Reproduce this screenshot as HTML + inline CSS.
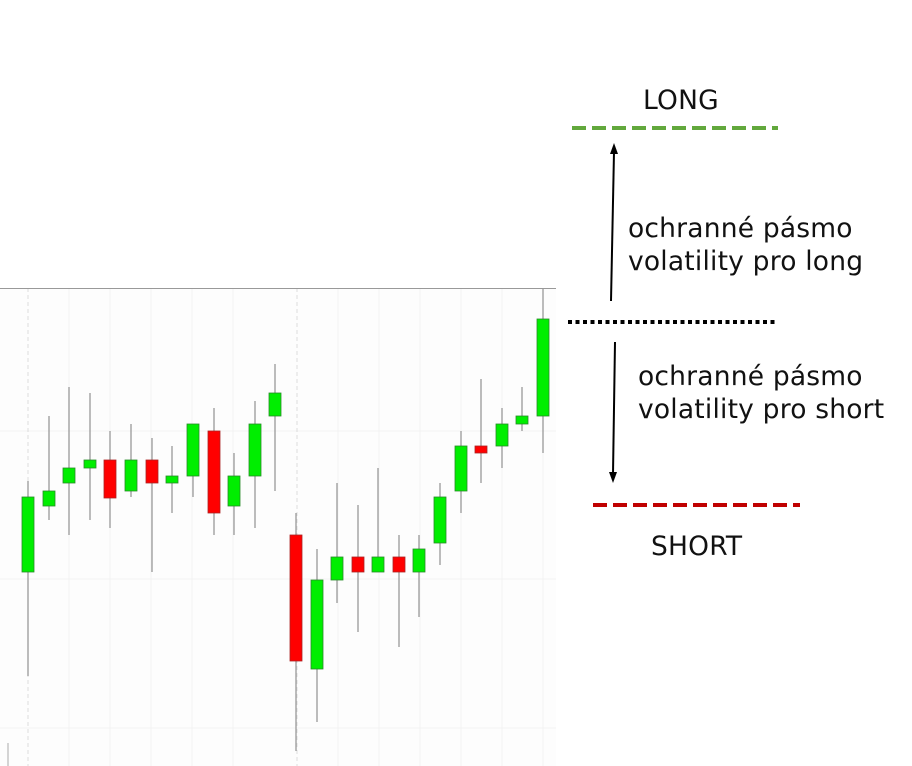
<!DOCTYPE html>
<html><head><meta charset="utf-8"><style>html,body{margin:0;padding:0;background:#fff}svg{display:block}</style></head>
<body>
<svg width="912" height="766" viewBox="0 0 912 766" xmlns="http://www.w3.org/2000/svg">
<rect x="0" y="288" width="556" height="478" fill="#fdfdfd"/>
<g stroke="#f2f2f2" stroke-width="1">
<line x1="0" y1="431" x2="556" y2="431"/><line x1="0" y1="579" x2="556" y2="579"/><line x1="0" y1="728" x2="556" y2="728"/>
<line x1="69" y1="288" x2="69" y2="766"/><line x1="110" y1="288" x2="110" y2="766"/><line x1="151" y1="288" x2="151" y2="766"/>
<line x1="192" y1="288" x2="192" y2="766"/><line x1="233" y1="288" x2="233" y2="766"/><line x1="338" y1="288" x2="338" y2="766"/>
<line x1="379" y1="288" x2="379" y2="766"/><line x1="420" y1="288" x2="420" y2="766"/><line x1="461" y1="288" x2="461" y2="766"/>
<line x1="502" y1="288" x2="502" y2="766"/><line x1="543" y1="288" x2="543" y2="766"/>
</g>
<g stroke="#dddddd" stroke-dasharray="4,3"><line x1="28" y1="288" x2="28" y2="766"/><line x1="297" y1="288" x2="297" y2="766"/></g>
<line x1="0" y1="288.5" x2="556" y2="288.5" stroke="#999" stroke-width="1"/>
<line x1="8" y1="743" x2="8" y2="766" stroke="#aaa"/>
<g id="c"></g>
<g font-family="'DejaVu Sans', 'Liberation Sans', sans-serif" font-size="26.5" fill="#111" letter-spacing="0.2">
<text x="643" y="109">LONG</text>
<text x="628" y="237">ochranné pásmo</text>
<text x="628" y="270">volatility pro long</text>
<text x="638" y="385">ochranné pásmo</text>
<text x="638" y="418">volatility pro short</text>
<text x="651" y="555">SHORT</text>
</g>
<line x1="572" y1="128" x2="778" y2="128" stroke="#62a83c" stroke-width="4" stroke-dasharray="14,6"/>
<line x1="593" y1="505" x2="800" y2="505" stroke="#c00000" stroke-width="4" stroke-dasharray="14,6"/>
<line x1="568" y1="322" x2="775" y2="322" stroke="#000" stroke-width="4" stroke-dasharray="4,3.5"/>
<line x1="611" y1="301" x2="614" y2="152" stroke="#000" stroke-width="2"/>
<polygon points="614,143 610,154 618,154" fill="#000"/>
<line x1="615" y1="342" x2="613" y2="474" stroke="#000" stroke-width="2"/>
<polygon points="613,483 609,472 617,472" fill="#000"/>
</svg>
<script>
var d=[[28,'g',481,676,497,572],[49,'g',416,520,491,506],[69,'g',387,535,468,483],[90,'g',393,520,460,468],[110,'r',431,528,460,498],[131,'g',424,497,460,491],[152,'r',438,572,460,483],[172,'g',446,513,476,483],[193,'g',424,497,424,476],[214,'r',408,535,431,513],[234,'g',453,535,476,506],[255,'g',401,528,424,476],[275,'g',364,491,393,416],[296,'r',513,751,535,661],[317,'g',549,722,580,669],[337,'g',483,603,557,580],[358,'r',505,632,557,572],[378,'g',468,572,557,572],[399,'r',535,647,557,572],[419,'g',535,617,549,572],[440,'g',483,565,497,543],[461,'g',431,513,446,491],[481,'r',379,483,446,453],[502,'g',408,468,424,446],[522,'g',387,431,416,424],[543,'g',288,453,319,416]];
var s='';d.forEach(function(c){var x=c[0];s+='<line x1="'+x+'" y1="'+c[2]+'" x2="'+x+'" y2="'+c[3]+'" stroke="#999" stroke-width="1.3"/>';s+='<rect x="'+(x-6)+'" y="'+c[4]+'" width="12" height="'+(c[5]-c[4])+'" fill="'+(c[1]=='g'?'#00ee00':'#ff0000')+'" stroke="'+(c[1]=='g'?'#2a8a2a':'#aa2222')+'" stroke-width="0.8"/>';});
document.getElementById('c').innerHTML=s;
</script>
</body></html>
